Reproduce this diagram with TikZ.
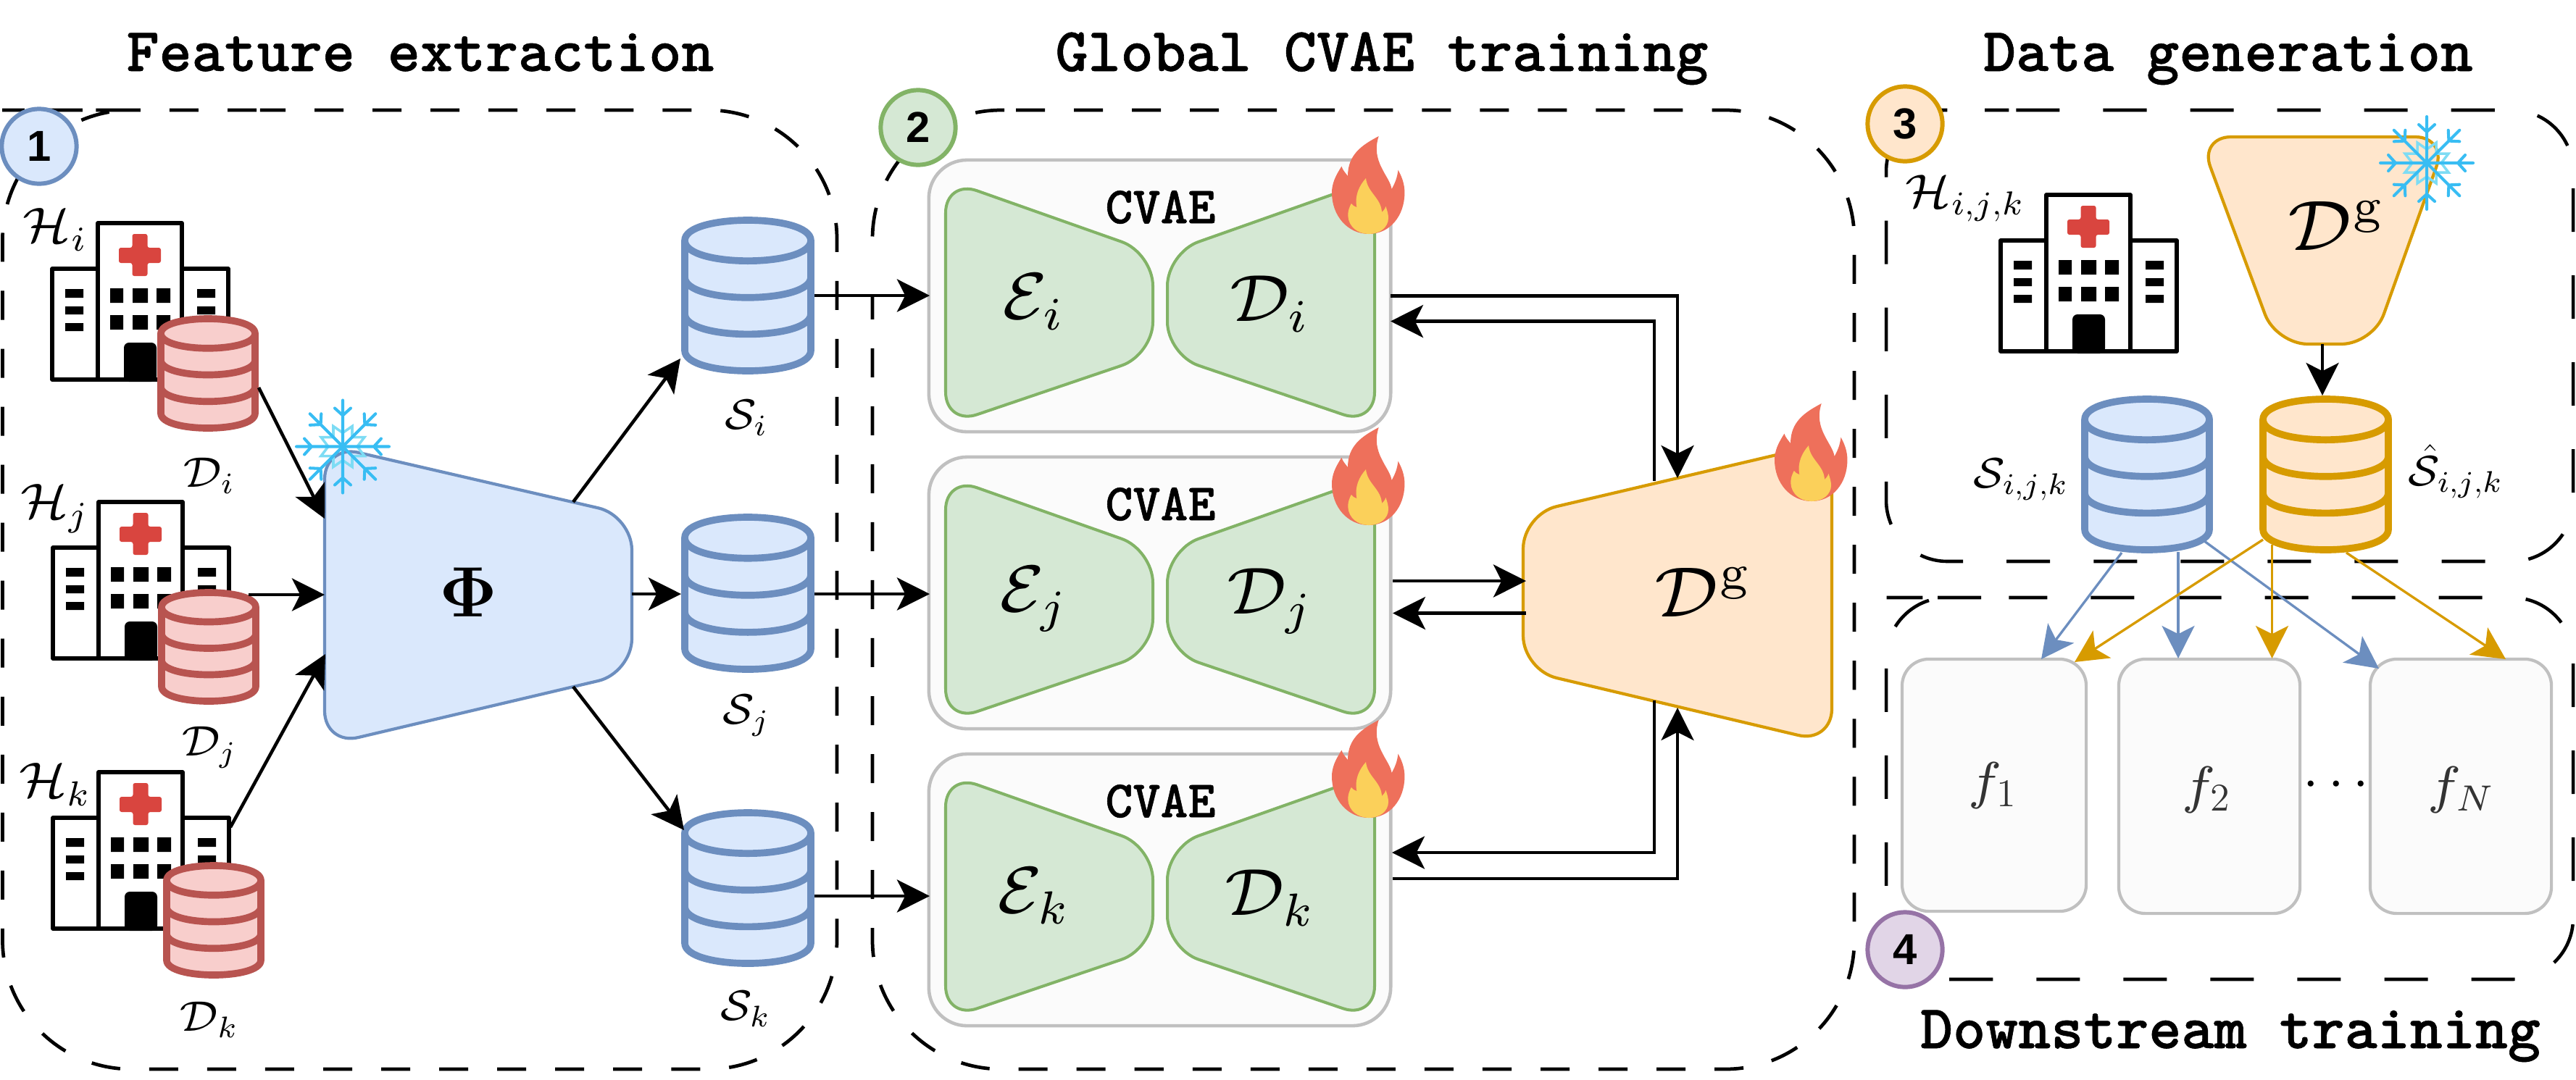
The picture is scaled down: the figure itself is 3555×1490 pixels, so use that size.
\RequirePackage{fix-cm}
\documentclass[tikz,border=0pt]{standalone}
\usepackage{fontspec}
\newfontfamily\numfont{Liberation Sans}[Scale=1]
\newfontfamily\titlefont{lmmonolt10-bold}[Extension=.otf,FakeBold=0.7]
% heavier optical sizes for the maths, as in the picture
\DeclareFontFamily{OMS}{hvsy}{\skewchar\font=48 }
\DeclareFontShape{OMS}{hvsy}{m}{n}{<->s*[0.93]cmsy7}{}
\DeclareMathAlphabet{\mcal}{OMS}{hvsy}{m}{n}
\DeclareFontFamily{OML}{hvmi}{\skewchar\font=127 }
\DeclareFontShape{OML}{hvmi}{m}{it}{<->s*[0.93]cmmi7}{}
\DeclareSymbolFont{hvletters}{OML}{hvmi}{m}{it}
\DeclareMathSymbol{\hi}{\mathord}{hvletters}{`i}
\DeclareMathSymbol{\hj}{\mathord}{hvletters}{`j}
\DeclareMathSymbol{\hk}{\mathord}{hvletters}{`k}
\DeclareMathSymbol{\hf}{\mathord}{hvletters}{`f}
\DeclareMathSymbol{\hN}{\mathord}{hvletters}{`N}
\DeclareFontFamily{OT1}{hvr}{}
\DeclareFontShape{OT1}{hvr}{m}{n}{<->s*[0.93]cmr7}{}
\DeclareMathAlphabet{\mrg}{OT1}{hvr}{m}{n}
\DeclareSymbolFont{hvbold}{OT1}{cmr}{bx}{n}
\DeclareMathSymbol{\bPhi}{\mathord}{hvbold}{8}
\usetikzlibrary{arrows.meta,calc}
\definecolor{bluef}{HTML}{DAE8FC}\definecolor{bluel}{HTML}{6C8EBF}
\definecolor{greenf}{HTML}{D5E8D4}\definecolor{greenl}{HTML}{82B366}
\definecolor{orgf}{HTML}{FFE6CC}\definecolor{orgl}{HTML}{D79B00}
\definecolor{redf}{HTML}{F8CECC}\definecolor{redl}{HTML}{B85450}
\definecolor{purf}{HTML}{E1D5E7}\definecolor{purl}{HTML}{9673A6}
\definecolor{greyl}{HTML}{C0C0C0}\definecolor{greyf}{HTML}{FBFBFB}
\definecolor{flameo}{HTML}{EE705B}\definecolor{flamey}{HTML}{FBD05A}
\definecolor{snowd}{HTML}{38BDF3}\definecolor{snowl}{HTML}{7DDCF4}
\definecolor{crossr}{HTML}{D9453F}
\tikzset{
  x=0.01cm,y=-0.01cm,
  ahead/.tip={Stealth[length=12.8pt,width=12.8pt,inset=3.2pt]},
  conn/.style={line width=1.3pt,-ahead},
  conb/.style={line width=0.95pt,draw=bluel,-{Stealth[length=12.8pt,width=12.8pt,inset=3.2pt,fill=bluel]}},
  cony/.style={line width=0.95pt,draw=orgl,-{Stealth[length=12.8pt,width=12.8pt,inset=3.2pt,fill=orgl]}},
  bigdash/.style={line width=1.35pt,dash pattern=on 11.38pt off 11.38pt},
  smalldash/.style={line width=1.3pt,dash pattern=on 17.07pt off 17.07pt},
  numc/.style={circle,line width=1.7pt,minimum size=2.95cm*0.35,inner sep=0pt,font=\numfont\fontsize{17}{20}\selectfont\bfseries},
  titletxt/.style={anchor=base,inner sep=0pt,font=\titlefont\fontsize{24.4}{28}\selectfont},
  cvaetxt/.style={inner sep=0pt,font=\titlefont\fontsize{20.6}{24}\selectfont},
  cvaebox/.style={draw=greyl,fill=greyf,line width=1.3pt,rounded corners=15pt,minimum width=6.37cm,minimum height=3.75cm,inner sep=0pt},
  fbox/.style={draw=greyl,fill=greyf,line width=1.2pt,rounded corners=10.5pt,inner sep=0pt},
  math18/.style={inner sep=0pt,font=\fontsize{18}{22}\selectfont},
  math21/.style={inner sep=0pt,font=\fontsize{21}{25}\selectfont},
  math28/.style={inner sep=0pt,font=\fontsize{28}{32}\selectfont},
  math30/.style={inner sep=0pt,font=\fontsize{30}{36}\selectfont},
  fml/.style={inner sep=0pt,text=black!80,font=\fontsize{22}{26}\selectfont},
  ae/.style={draw=greenl,fill=greenf,line width=1.15pt,rounded corners=13pt},
  trapz/.style={line width=1.2pt,rounded corners=13.5pt},
}
% #1 name #2 cx #3 top #4 bottom #5 half width (all outer) #6 fill #7 line
\newcommand{\dbcyl}[7]{%
  \pgfmathsetmacro{\cL}{#2-#5+5}\pgfmathsetmacro{\cR}{#2+#5-5}
  \pgfmathsetmacro{\cT}{#3+5}\pgfmathsetmacro{\cB}{#4-5}
  \pgfmathsetmacro{\cH}{\cB-\cT}\pgfmathsetmacro{\cry}{0.135*\cH}
  \pgfmathsetmacro{\cK}{1.3333*\cry}
  \pgfmathsetmacro{\cA}{\cT+\cry}
  \pgfmathsetmacro{\cSt}{(\cH-2*\cry)/3}
  \pgfmathsetmacro{\cBa}{\cA+\cSt}\pgfmathsetmacro{\cBb}{\cA+2*\cSt}\pgfmathsetmacro{\cBc}{\cA+3*\cSt}
  \pgfmathsetmacro{\cnw}{(2*#5)*0.01}\pgfmathsetmacro{\cnh}{(#4-#3)*0.01}
  \node[inner sep=0pt,minimum width=\cnw cm,minimum height=\cnh cm] (#1) at (#2,{(#3+#4)/2}) {};
  \draw[fill=#6,draw=#7,line width=2.75pt,line join=round]
    (\cL,\cA) .. controls (\cL,\cA-\cK) and (\cR,\cA-\cK) .. (\cR,\cA)
    -- (\cR,\cBc) .. controls (\cR,\cBc+\cK) and (\cL,\cBc+\cK) .. (\cL,\cBc) -- cycle;
  \foreach \yy in {\cA,\cBa,\cBb}{
    \draw[draw=#7,line width=2.75pt] (\cL,\yy) .. controls (\cL,\yy+\cK) and (\cR,\yy+\cK) .. (\cR,\yy);
  }
}
\newcommand{\hospital}[2]{%
  \begin{scope}[shift={(#1,#2)}]
    \draw[fill=white,line width=1.6pt,line join=round]
      (3,219) -- (3,66) -- (66,66) -- (66,3) -- (182,3) -- (182,66) -- (246,66) -- (246,219) -- cycle;
    \draw[line width=1.6pt] (66,66) -- (66,219) (182,66) -- (182,219);
    \fill[crossr,rounded corners=0.8pt] (113.5,18) -- (134.5,18) -- (134.5,37) -- (153,37) -- (153,58) -- (134.5,58) -- (134.5,76) -- (113.5,76) -- (113.5,58) -- (95,58) -- (95,37) -- (113.5,37) -- cycle;
    \fill (83,93) rectangle (101,113) (114,93) rectangle (135,113) (147,93) rectangle (166,113);
    \fill (83,130) rectangle (101,150) (114,130) rectangle (135,150) (147,130) rectangle (166,150);
    \fill (21,94) rectangle (46,106) (21,118) rectangle (46,129) (21,141) rectangle (46,152);
    \fill (203,94) rectangle (228,106) (203,118) rectangle (228,129) (203,141) rectangle (228,152);
    \fill[rounded corners=2pt] (102,222) -- (102,168) -- (147,168) -- (147,222) -- cycle;
  \end{scope}
}
\newcommand{\flame}[2]{%
  \begin{scope}[shift={(#1,#2)}]
    \fill[flameo] (64.7,0) .. controls (42,12) and (22,25) .. (22,55)
      .. controls (19,51) and (15,47) .. (13.4,41.7)
      .. controls (5,55) and (0,65) .. (0,78)
      .. controls (0,110) and (22,135) .. (51,135)
      .. controls (80,135) and (100.4,110) .. (100.4,78)
      .. controls (100.4,65) and (96,55) .. (91.5,46.7)
      .. controls (90,58) and (87,65) .. (82.6,73)
      .. controls (80,55) and (53,35) .. (64.7,0) -- cycle;
    \fill[flamey] (47,58) .. controls (38,68) and (31,82) .. (34.4,98)
      .. controls (31,97) and (28,95) .. (26.8,93)
      .. controls (24,98) and (22,104) .. (22.3,110)
      .. controls (23,125) and (36,135) .. (51,135)
      .. controls (66,135) and (78,126) .. (78,113)
      .. controls (78,107) and (76,102) .. (74.5,97)
      .. controls (73,101) and (71,103) .. (69,105)
      .. controls (68,85) and (49,78) .. (47,58) -- cycle;
  \end{scope}
}
\newcommand{\snowflake}[2]{%
  \begin{scope}[shift={(#1,#2)}]
    \draw[snowl,line width=1pt,line join=miter]
      (13,-13) -- (13,-28) -- (0,-19) -- (-13,-28) -- (-13,-13)
      -- (-30,-13) -- (-20,0) -- (-30,13) -- (-13,13)
      -- (-13,28) -- (0,19) -- (13,28) -- (13,13)
      -- (30,13) -- (20,0) -- (30,-13) -- cycle;
    \foreach \aa in {0,45,...,315}{
      \begin{scope}[rotate=\aa]
        \draw[snowd,line width=1.15pt,line cap=round]
          (0,0) -- (64,0) (43,0) -- (53,11) (43,0) -- (53,-11);
      \end{scope}
    }
  \end{scope}
}
\begin{document}
\begin{tikzpicture}
\useasboundingbox (0,0) rectangle (3555,1490);
\fill[white] (0,0) rectangle (3555,1490);

% titles
\node[titletxt] (t1) at (580,98) {Feature extraction};
\node[titletxt] (t2) at (1907,98) {Global CVAE training};
\node[titletxt] (t3) at (3075,98) {Data generation};
\node[titletxt] (t4) at (3078,1447) {Downstream training};

% dashed regions
\draw[bigdash,dash phase=1.4pt,rounded corners=50.6pt] (181,152) -- (1155,152) -- (1155,1476) -- (3.5,1476) -- (3.5,152) -- cycle;
\draw[bigdash,rounded corners=50.6pt] (1402,152) -- (2559,152) -- (2559,1476) -- (1204,1476) -- (1204,410);
\draw[bigdash,rounded corners=50.6pt] (1386,152) -- (1204,152) -- (1204,362);
\draw[smalldash,dash phase=31.3pt,rounded corners=24pt] (2688,152) -- (3551,152) -- (3551,775) -- (2603,775) -- (2603,152) -- cycle;
\draw[smalldash,dash phase=2pt,rounded corners=24pt] (2688,825) -- (3551,825) -- (3551,1352) -- (2603,1352) -- (2603,825) -- cycle;

% hospitals and local data
\hospital{69}{305}\hospital{70}{690}\hospital{70}{1063}
\dbcyl{Di}{287}{435}{596}{70}{redf}{redl}
\dbcyl{Dj}{288}{813}{973}{70}{redf}{redl}
\dbcyl{Dk}{295}{1190}{1351}{70}{redf}{redl}
\node[math21] (lHi) at (75,317) {$\mcal{H}_{\hi}$};
\node[math21] (lHj) at (75,702) {$\mcal{H}_{\hj}$};
\node[math21] (lHk) at (75,1083) {$\mcal{H}_{\hk}$};
\node[math18] (lDi) at (288,657) {$\mcal{D}_{\hi}$};
\node[math18] (lDj) at (288,1032) {$\mcal{D}_{\hj}$};
\node[math18] (lDk) at (288,1408) {$\mcal{D}_{\hk}$};

% Phi
\draw[draw=bluel,fill=bluef,trapz]
  (448,614) -- (872,712) -- (872,929) -- (448,1029) -- cycle;
\node[inner sep=0pt,font=\fontsize{28}{34}\selectfont] (phi) at (646,818) {$\bPhi$};

% feature stores
\dbcyl{Si}{1032}{299}{517}{92}{bluef}{bluel}
\dbcyl{Sj}{1032}{709}{929}{92}{bluef}{bluel}
\dbcyl{Sk}{1032}{1117}{1335}{92}{bluef}{bluel}
\node[math18] (lSi) at (1029,577) {$\mcal{S}_{\hi}$};
\node[math18] (lSj) at (1029,988) {$\mcal{S}_{\hj}$};
\node[math18] (lSk) at (1028,1393) {$\mcal{S}_{\hk}$};

% CVAEs
\foreach \nm/\sb/\off in {i/\hi/0,j/\hj/410,k/\hk/820}{
  \node[cvaebox] (cvae\nm) at (1600.5,408.5+\off) {};
  \begin{scope}[shift={(0,\off)}]
    \draw[ae] (1305,248) -- (1591,349) -- (1591,490) -- (1305,587) -- cycle;
    \draw[ae] (1897,248) -- (1611,349) -- (1611,490) -- (1897,587) -- cycle;
  \end{scope}
  \node[cvaetxt] (cv\nm) at (1601.5,286+\off) {CVAE};
  \node[math28] (le\nm) at (1425,417+\off) {$\mcal{E}_{\sb}$};
  \node[math28] (ld\nm) at (1751,420+\off) {$\mcal{D}_{\sb}$};
}

% global decoder
\draw[draw=orgl,fill=orgf,trapz]
  (2102,710) -- (2528,610) -- (2528,1026) -- (2102,925) -- cycle;
\node[math30] (ldg) at (2349,818) {$\mcal{D}^{\mrg{g}}$};

% ports, left part
\coordinate (pDiOut) at (357,535);\coordinate (pPhiI) at (448,716);
\coordinate (pDjOut) at (343,821);\coordinate (pPhiJ) at (448,821);
\coordinate (pDkOut) at (318,1142);\coordinate (pPhiK) at (449,903);
\coordinate (pPhiOi) at (791,693);\coordinate (pSiIn) at (939,495);
\coordinate (pPhiOj) at (872,820);\coordinate (pSjIn) at (940,820);
\coordinate (pPhiOk) at (791,948);\coordinate (pSkIn) at (944,1146);
\coordinate (pSiOut) at (1124,408);\coordinate (pBoxI) at (1283,408);
\coordinate (pSjOut) at (1124,820);\coordinate (pBoxJ) at (1283,820);
\coordinate (pSkOut) at (1124,1237);\coordinate (pBoxK) at (1283,1237);
\draw[conn] (pDiOut) -- (pPhiI);
\draw[conn] (pDjOut) -- (pPhiJ);
\draw[conn] (pDkOut) -- (pPhiK);
\draw[conn] (pPhiOi) -- (pSiIn);
\draw[conn] (pPhiOj) -- (pSjIn);
\draw[conn] (pPhiOk) -- (pSkIn);
\draw[conn] (pSiOut) -- (pBoxI);
\draw[conn] (pSjOut) -- (pBoxJ);
\draw[conn] (pSkOut) -- (pBoxK);

% ports, CVAE <-> global decoder
\coordinate (qIo) at (1919,408.5);\coordinate (qIt) at (2315,408.5);\coordinate (qIe) at (2315,660);
\coordinate (qIb) at (2283,664);\coordinate (qIc) at (2283,443.5);\coordinate (qIi) at (1919,443.5);
\coordinate (qJo) at (1922,802);\coordinate (qJe) at (2106,802);
\coordinate (qJb) at (2106,846.5);\coordinate (qJi) at (1922,846.5);
\coordinate (qKb) at (2283,967);\coordinate (qKc) at (2283,1177);\coordinate (qKi) at (1921,1177);
\coordinate (qKo) at (1922,1213);\coordinate (qKt) at (2315,1213);\coordinate (qKe) at (2315,977);
\draw[conn,line join=miter] (qIo) -- (qIt) -- (qIe);
\draw[conn,line join=miter] (qIb) -- (qIc) -- (qIi);
\draw[conn] (qJo) -- (qJe);
\draw[conn] (qJb) -- (qJi);
\draw[conn,line join=miter] (qKb) -- (qKc) -- (qKi);
\draw[conn,line join=miter] (qKo) -- (qKt) -- (qKe);

% data generation
\hospital{2758}{266}
\node[inner sep=0pt,font=\fontsize{20}{24}\selectfont] (lHijk) at (2711,274) {$\mcal{H}_{\hi,\hj,\hk}$};
\draw[draw=orgl,fill=orgf,trapz,rounded corners=12.5pt]
  (3035,189) -- (3377,189) -- (3275,475) -- (3141,475) -- cycle;
\node[math30] (lDgt) at (3223,312) {$\mcal{D}^{\mrg{g}}$};

% downstream models
\node[fbox,minimum width=2.54cm,minimum height=3.48cm] (f1) at (2752,1084) {};
\node[fbox,minimum width=2.50cm,minimum height=3.51cm] (f2) at (3049,1085.5) {};
\node[fbox,minimum width=2.50cm,minimum height=3.51cm] (fN) at (3396,1085.5) {};
\node[fml] (lf1) at (2750,1084) {$\hf_1$};
\node[fml] (lf2) at (3045,1090) {$\hf_2$};
\node[fml] (lfN) at (3396,1090) {$\hf_{\hN}$};
\node[inner sep=0pt,font=\fontsize{22}{26}\selectfont] (dots) at (3224,1084) {$\cdots$};

% ports, generation -> downstream
\coordinate (rB1) at (2928,763);\coordinate (rF1b) at (2817,910);
\coordinate (rB2) at (3006,762);\coordinate (rF2b) at (3006,909);
\coordinate (rB3) at (3042,747);\coordinate (rFNb) at (3283,923);
\coordinate (rY1) at (3123,745);\coordinate (rF1y) at (2863,914);
\coordinate (rY2) at (3135.5,752);\coordinate (rF2y) at (3135.5,909);
\coordinate (rY3) at (3238,763);\coordinate (rFNy) at (3458,910);
\draw[conb] (rB1) -- (rF1b);
\draw[conb] (rB2) -- (rF2b);
\draw[conb] (rB3) -- (rFNb);
\draw[cony] (rY1) -- (rF1y);
\draw[cony] (rY2) -- (rF2y);
\draw[cony] (rY3) -- (rFNy);

\dbcyl{Sijk}{2963}{546}{764}{91}{bluef}{bluel}
\dbcyl{Shat}{3209.5}{546}{764}{91.5}{orgf}{orgl}
\node[math18] (lSijk) at (2788,662) {$\mcal{S}_{\hi,\hj,\hk}$};
\node[math18] (lShat) at (3388,651) {$\hat{\mcal{S}}_{\hi,\hj,\hk}$};
\coordinate (pDgBot) at (3205,475);\coordinate (pShatTop) at (3205,546);
\draw[conn] (pDgBot) -- (pShatTop);

% step badges
\node[numc,draw=bluel,fill=bluef] (n1) at (54,202) {1};
\node[numc,draw=greenl,fill=greenf] (n2) at (1267,176) {2};
\node[numc,draw=orgl,fill=orgf] (n3) at (2629,171) {3};
\node[numc,draw=purl,fill=purf] (n4) at (2629,1311) {4};

% flames and snowflakes
\flame{1838}{188}\flame{1838}{590}\flame{1838}{994}\flame{2449}{557}
\snowflake{473}{616.5}\snowflake{3349}{225}
\end{tikzpicture}
\end{document}
